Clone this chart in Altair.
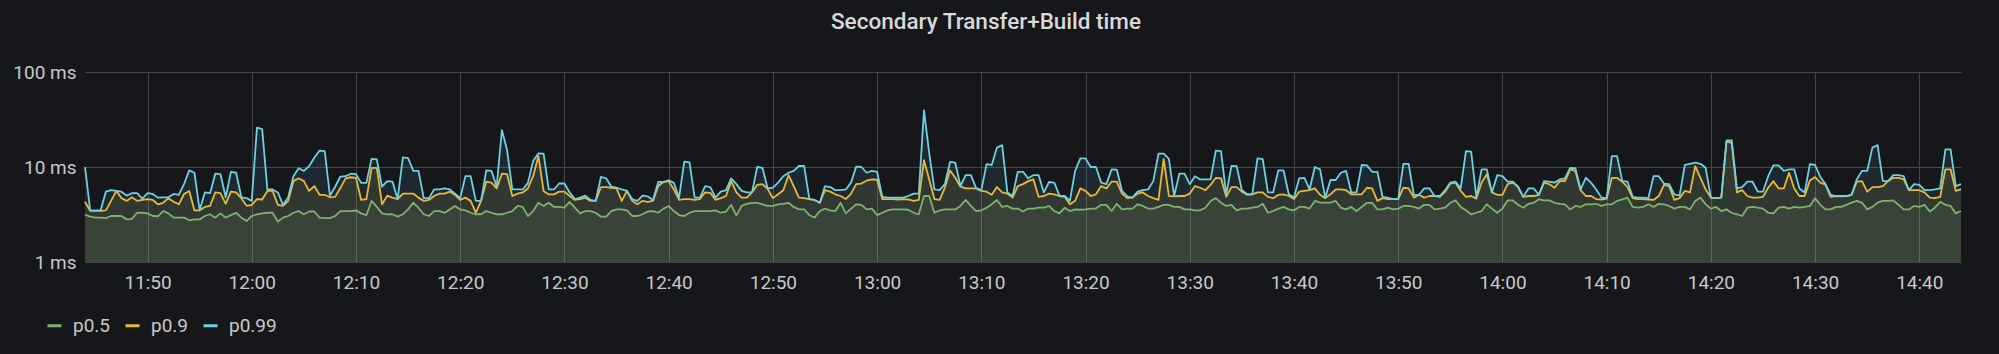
import altair as alt
import pandas as pd

# ---- data (ms), 30 s resolution, 11:44:00 -> 14:44:00 ----
START_MIN = 11 * 60 + 44   # 11:44 in minutes after midnight
STEP_MIN = 0.5             # 30 s
END_MIN = 14 * 60 + 44

p50 = [
    3.15, 3.0, 2.93, 2.93, 2.9, 3.05, 3.05, 3.05, 2.81, 2.85,
    3.3, 3.3, 3.25, 3.05, 3.03, 3.44, 3.25, 2.93, 2.93, 2.93,
    2.75, 2.81, 2.81, 3.05, 3.18, 2.93, 3.25, 2.93, 3.12, 3.3,
    2.93, 2.7, 3.05, 3.18, 3.25, 3.3, 3.3, 2.67, 2.93, 3.05,
    3.3, 3.44, 3.18, 3.4, 3.4, 2.93, 2.9, 2.9, 3.05, 3.44,
    3.44, 3.44, 3.5, 3.25, 3.12, 4.39, 3.8, 3.25, 3.18, 3.18,
    3.0, 3.18, 3.58, 4.2, 3.73, 3.18, 3.05, 3.44, 3.44, 3.3,
    3.58, 3.89, 3.58, 3.5, 3.3, 3.18, 3.18, 3.44, 3.3, 3.18,
    3.18, 3.3, 3.44, 3.89, 3.8, 3.05, 3.44, 4.2, 3.89, 4.2,
    3.8, 3.8, 3.73, 4.3, 3.73, 3.25, 3.44, 3.44, 3.3, 3.0,
    3.0, 3.44, 3.58, 3.58, 3.5, 3.05, 3.05, 3.18, 3.4, 3.44,
    3.3, 3.65, 3.89, 3.44, 3.12, 3.05, 3.3, 3.44, 3.44, 3.44,
    3.44, 3.5, 3.3, 3.4, 4.0, 3.1, 3.89, 4.1, 4.2, 4.2,
    4.05, 3.89, 3.89, 4.05, 4.1, 4.2, 3.8, 3.58, 3.58, 3.12,
    2.93, 3.44, 3.65, 3.5, 3.44, 4.2, 3.25, 3.65, 4.05, 4.0,
    3.58, 3.65, 3.12, 3.3, 3.5, 3.58, 3.58, 3.58, 3.55, 3.3,
    3.18, 4.95, 4.95, 3.3, 3.5, 3.58, 3.58, 3.58, 3.89, 4.5,
    3.89, 3.44, 3.5, 3.73, 4.05, 4.5, 3.8, 3.89, 3.65, 3.65,
    3.4, 3.65, 3.65, 3.73, 3.73, 3.89, 3.44, 3.25, 3.73, 3.44,
    3.58, 3.55, 3.58, 3.65, 3.65, 4.0, 4.0, 3.44, 4.1, 3.58,
    3.65, 3.65, 4.05, 3.89, 3.65, 3.65, 3.8, 4.0, 4.0, 3.8,
    3.8, 3.58, 3.58, 3.5, 3.5, 3.73, 4.39, 4.7, 4.2, 3.89,
    4.0, 3.5, 3.65, 3.65, 3.73, 3.8, 4.1, 3.3, 3.44, 3.65,
    3.8, 3.58, 3.5, 3.8, 3.8, 3.65, 4.39, 4.21, 4.21, 4.21,
    4.39, 3.73, 3.58, 3.8, 3.44, 3.8, 4.2, 4.2, 3.58, 3.58,
    3.73, 3.58, 3.65, 3.89, 3.89, 3.8, 3.65, 4.0, 4.0, 3.58,
    3.65, 3.73, 4.2, 4.45, 3.8, 3.5, 3.18, 3.3, 3.44, 4.05,
    3.65, 3.3, 3.65, 4.45, 4.45, 4.0, 3.73, 4.1, 4.2, 4.57,
    4.45, 4.45, 4.2, 4.1, 4.05, 3.58, 3.89, 3.8, 4.05, 4.05,
    4.1, 3.89, 4.05, 4.05, 4.39, 4.57, 4.76, 3.8, 3.73, 3.8,
    4.05, 3.8, 4.1, 4.05, 3.89, 3.65, 3.8, 3.8, 3.58, 4.39,
    4.76, 4.05, 3.65, 3.8, 3.44, 3.58, 3.3, 3.18, 3.05, 3.73,
    3.8, 3.73, 3.65, 3.3, 3.25, 3.73, 3.8, 3.65, 3.8, 3.73,
    3.8, 3.89, 4.7, 4.0, 3.58, 3.58, 3.8, 3.8, 4.0, 4.21,
    4.39, 4.21, 3.58, 3.8, 4.21, 4.39, 4.39, 4.45, 4.0, 3.58,
    3.58, 3.89, 3.8, 4.0, 3.4, 3.73, 4.3, 4.0, 3.89, 3.25, 3.44,
]

p90 = [
    4.3, 3.45, 3.45, 3.45, 3.5, 4.4, 5.6, 4.7, 4.4, 4.8,
    4.4, 4.5, 4.6, 4.5, 4.05, 4.2, 4.7, 4.3, 4.05, 5.2,
    5.6, 3.5, 3.5, 3.8, 3.9, 5.4, 5.3, 4.1, 5.5, 5.4,
    4.7, 3.9, 4.0, 4.6, 4.55, 5.6, 5.6, 4.0, 3.9, 4.4,
    7.1, 7.6, 7.1, 5.6, 6.3, 5.1, 5.1, 4.8, 4.85, 6.0,
    7.6, 7.8, 7.7, 4.5, 4.6, 9.8, 9.8, 4.05, 5.0, 4.76,
    4.6, 5.25, 5.25, 5.25, 4.76, 4.4, 4.5, 4.95, 5.25, 5.25,
    5.5, 5.1, 4.5, 4.76, 4.4, 3.3, 4.4, 7.0, 6.85, 5.95,
    8.5, 8.4, 4.95, 5.25, 5.4, 5.95, 8.0, 13.0, 5.6, 5.15,
    5.15, 5.5, 5.5, 4.95, 4.5, 4.6, 4.76, 4.4, 4.4, 6.15,
    6.15, 6.05, 5.95, 4.4, 5.6, 4.4, 4.05, 4.4, 4.3, 4.4,
    6.3, 6.95, 7.1, 5.8, 4.5, 4.6, 4.6, 4.5, 4.6, 5.4,
    5.35, 4.5, 4.7, 4.95, 7.1, 5.4, 4.76, 4.76, 5.4, 6.5,
    6.6, 5.9, 4.7, 5.16, 5.7, 8.2, 6.3, 4.76, 4.7, 4.6,
    4.5, 4.2, 5.7, 5.5, 5.16, 4.95, 4.6, 5.25, 6.6, 6.7,
    7.2, 7.4, 7.35, 4.6, 4.6, 4.6, 4.55, 4.6, 4.55, 4.4,
    4.5, 11.8, 7.4, 4.6, 4.5, 6.05, 9.2, 7.7, 6.2, 5.95,
    5.95, 5.95, 5.6, 5.5, 5.1, 6.15, 5.4, 5.25, 4.76, 6.3,
    6.6, 7.1, 7.4, 4.85, 4.95, 5.25, 5.16, 4.95, 4.85, 4.05,
    4.4, 5.95, 5.6, 4.95, 5.16, 6.3, 5.95, 7.0, 7.0, 5.25,
    4.7, 4.76, 5.25, 5.4, 4.95, 4.7, 4.5, 12.2, 4.95, 4.9,
    4.95, 4.95, 5.25, 6.3, 6.05, 5.7, 6.5, 7.7, 7.6, 4.85,
    6.15, 6.15, 5.5, 5.1, 5.16, 5.4, 5.4, 4.85, 4.7, 5.1,
    5.16, 4.95, 4.6, 5.5, 5.6, 5.7, 5.95, 5.1, 4.7, 5.16,
    5.8, 5.8, 5.7, 5.16, 5.16, 5.16, 6.05, 5.95, 4.4, 4.7,
    4.6, 4.6, 4.6, 6.05, 5.95, 4.76, 5.1, 4.76, 4.95, 4.95,
    4.85, 5.5, 6.7, 6.85, 5.6, 4.85, 4.95, 4.65, 6.85, 8.37,
    5.4, 5.1, 5.1, 6.6, 6.85, 6.15, 4.85, 4.95, 4.95, 5.1,
    6.85, 6.6, 6.05, 7.1, 7.1, 9.45, 9.1, 5.7, 4.95, 4.95,
    4.6, 4.55, 4.65, 7.7, 7.7, 7.0, 6.15, 4.7, 4.6, 4.6,
    4.55, 4.5, 4.95, 6.5, 6.3, 4.5, 4.7, 5.6, 5.4, 10.2,
    7.7, 5.8, 4.76, 4.7, 4.76, 18.5, 18.0, 5.4, 5.7, 4.95,
    4.76, 4.76, 4.85, 6.05, 7.1, 5.95, 5.95, 8.7, 5.95, 4.95,
    4.95, 7.2, 7.85, 6.85, 6.5, 4.85, 4.95, 4.9, 4.95, 5.1,
    7.0, 7.1, 5.5, 6.15, 6.15, 6.3, 7.1, 7.7, 7.7, 7.4,
    5.7, 5.7, 5.7, 5.4, 4.76, 4.7, 4.85, 9.45, 9.45, 5.6, 5.8,
]

p99 = [
    10.0, 3.5, 3.5, 3.5, 5.5, 5.7, 5.6, 5.5, 5.0, 5.3,
    5.3, 4.65, 5.3, 5.2, 4.76, 4.8, 4.8, 5.2, 5.1, 6.6,
    9.2, 8.7, 3.5, 5.4, 5.3, 8.5, 8.4, 4.8, 8.9, 8.7,
    4.8, 4.7, 4.4, 26.0, 25.0, 5.8, 5.8, 5.4, 4.0, 4.8,
    8.0, 9.7, 9.1, 10.2, 12.5, 14.9, 14.7, 5.0, 6.2, 7.9,
    8.0, 8.5, 8.4, 6.8, 6.8, 12.2, 12.0, 6.2, 7.1, 7.0,
    4.6, 12.6, 12.4, 9.1, 9.1, 4.7, 4.7, 5.8, 5.8, 5.95,
    5.8, 5.25, 4.7, 8.0, 8.0, 4.4, 4.4, 9.2, 9.1, 6.2,
    24.5, 15.0, 5.8, 5.8, 5.8, 6.8, 11.6, 13.9, 13.8, 5.8,
    5.8, 6.7, 6.7, 5.4, 4.6, 4.76, 5.0, 4.5, 4.4, 7.85,
    7.6, 6.2, 6.05, 5.8, 5.6, 4.6, 4.4, 5.0, 4.9, 4.5,
    6.95, 6.95, 7.25, 6.8, 4.76, 11.4, 11.2, 4.76, 4.76, 6.3,
    6.15, 4.76, 5.5, 5.7, 7.6, 6.6, 5.6, 5.4, 5.4, 10.0,
    9.8, 5.95, 6.05, 6.85, 8.0, 8.7, 9.1, 10.25, 10.25, 4.6,
    4.5, 4.2, 6.3, 6.15, 5.7, 5.7, 5.8, 6.85, 10.1, 10.0,
    8.7, 9.1, 8.9, 4.85, 4.76, 4.76, 4.76, 4.76, 4.95, 5.25,
    5.25, 39.5, 14.0, 5.8, 5.7, 6.6, 11.3, 11.1, 6.3, 8.2,
    8.2, 6.0, 5.7, 10.7, 10.5, 16.0, 17.0, 5.4, 4.95, 8.9,
    8.9, 7.6, 8.2, 8.2, 5.4, 6.95, 6.85, 5.0, 4.95, 4.4,
    9.1, 12.3, 12.3, 10.0, 10.0, 6.85, 6.6, 9.45, 9.4, 5.6,
    4.9, 4.76, 5.5, 5.7, 5.8, 7.1, 13.8, 13.8, 12.2, 4.95,
    8.5, 8.5, 6.6, 8.0, 7.4, 7.4, 7.4, 14.9, 14.7, 5.16,
    10.25, 10.2, 5.7, 5.2, 5.16, 12.3, 12.1, 5.4, 5.4, 9.2,
    9.2, 5.16, 4.76, 7.6, 7.7, 5.8, 10.0, 9.45, 4.76, 7.3,
    7.3, 8.7, 9.1, 5.4, 5.4, 10.5, 10.4, 8.9, 8.9, 4.85,
    4.76, 4.6, 4.6, 10.8, 10.8, 5.1, 5.1, 5.95, 5.95, 4.95,
    4.95, 5.7, 6.85, 7.0, 5.95, 14.7, 14.5, 4.76, 9.45, 9.45,
    5.4, 8.2, 8.0, 7.0, 7.0, 6.2, 4.85, 5.95, 5.95, 5.1,
    7.1, 7.0, 6.85, 7.4, 7.6, 9.8, 9.7, 5.8, 7.7, 6.85,
    5.8, 4.76, 4.7, 13.0, 13.0, 7.1, 7.0, 4.85, 4.76, 4.76,
    4.7, 8.0, 8.0, 6.7, 6.6, 5.16, 5.0, 10.5, 10.8, 11.1,
    10.8, 9.8, 4.76, 4.7, 4.76, 19.1, 19.1, 5.95, 6.15, 7.0,
    7.0, 5.5, 5.5, 8.0, 10.4, 10.4, 9.1, 9.45, 9.45, 5.95,
    5.4, 10.7, 10.5, 7.85, 6.6, 5.1, 4.95, 4.95, 4.95, 5.1,
    7.4, 9.1, 9.1, 16.0, 17.0, 7.1, 7.1, 8.2, 8.2, 8.0,
    5.7, 6.6, 6.5, 5.7, 5.7, 5.8, 5.95, 15.3, 15.3, 6.3, 6.6,
]

series_names = ["p0.5", "p0.9", "p0.99"]
series_colors = ["#7EB26D", "#EAB839", "#6ED0E0"]
y_ticks = [1, 10, 100]
x_ticks = list(range(11 * 60 + 50, 14 * 60 + 41, 10))   # 11:50 ... 14:40

BG = "#16171b"
TEXT = "#c7c8cc"
GRID = "#45464b"

rows = []
for name, vals in zip(series_names, [p50, p90, p99]):
    for i, v in enumerate(vals):
        rows.append({"minute": START_MIN + STEP_MIN * i, "value": v, "series": name})
df = pd.DataFrame(rows)

time_label = ("floor(datum.value / 60) + ':' + "
              "(datum.value % 60 < 10 ? '0' : '') + (datum.value % 60)")

x_enc = alt.X(
    "minute:Q",
    scale=alt.Scale(domain=[START_MIN, END_MIN], nice=False, zero=False),
    axis=alt.Axis(
        title=None, values=x_ticks, labelExpr=time_label,
        grid=True, gridColor=GRID, gridWidth=1,
        domain=False, ticks=False,
        labelFont="Roboto", labelFontSize=19, labelColor=TEXT, labelPadding=11,
        labelFlush=False,
    ),
)
y_enc = alt.Y(
    "value:Q",
    scale=alt.Scale(type="log", domain=[1, 100], nice=False),
    axis=alt.Axis(
        title=None, values=y_ticks, labelExpr="datum.value + ' ms'",
        grid=True, gridColor=GRID, gridWidth=1,
        domain=False, ticks=False,
        labelFont="Roboto", labelFontSize=19, labelColor=TEXT, labelPadding=9,
    ),
)

base = alt.Chart(df)

# one translucent fill per series, each from 1 ms up to its value
area_layers = [
    base.transform_filter(alt.datum.series == name)
    .mark_area(fillOpacity=0.1, interpolate="linear", color=col)
    .encode(x=x_enc, y=y_enc, y2=alt.datum(1))
    for name, col in zip(series_names, series_colors)
]

lines = base.mark_line(strokeWidth=1.8, interpolate="linear", strokeJoin="round").encode(
    x=x_enc,
    y=y_enc,
    color=alt.Color(
        "series:N",
        scale=alt.Scale(domain=series_names, range=series_colors),
        legend=alt.Legend(
            title=None, orient="none", legendX=-40, legendY=244,
            direction="horizontal", symbolType="stroke", symbolSize=196,
            symbolStrokeWidth=3, labelFont="Roboto", labelFontSize=19,
            labelColor=TEXT, labelOffset=9, columnPadding=8,
        ),
    ),
    detail="series:N",
)

chart = alt.layer(*area_layers, lines).properties(
    width=1876,
    height=190,
    padding={"left": 85, "top": 72, "right": 38, "bottom": 92},
    autosize=alt.AutoSizeParams(type="none"),
    title=alt.TitleParams(
        "Secondary Transfer+Build time",
        font="Roboto", fontSize=22.5, fontWeight=500, color="#d8d9dc",
        anchor="middle", dx=-37, offset=12, baseline="alphabetic",
    ),
).configure(background=BG).configure_view(stroke=None)

chart.save("out.html", embed_options={"renderer": "svg", "actions": False})
